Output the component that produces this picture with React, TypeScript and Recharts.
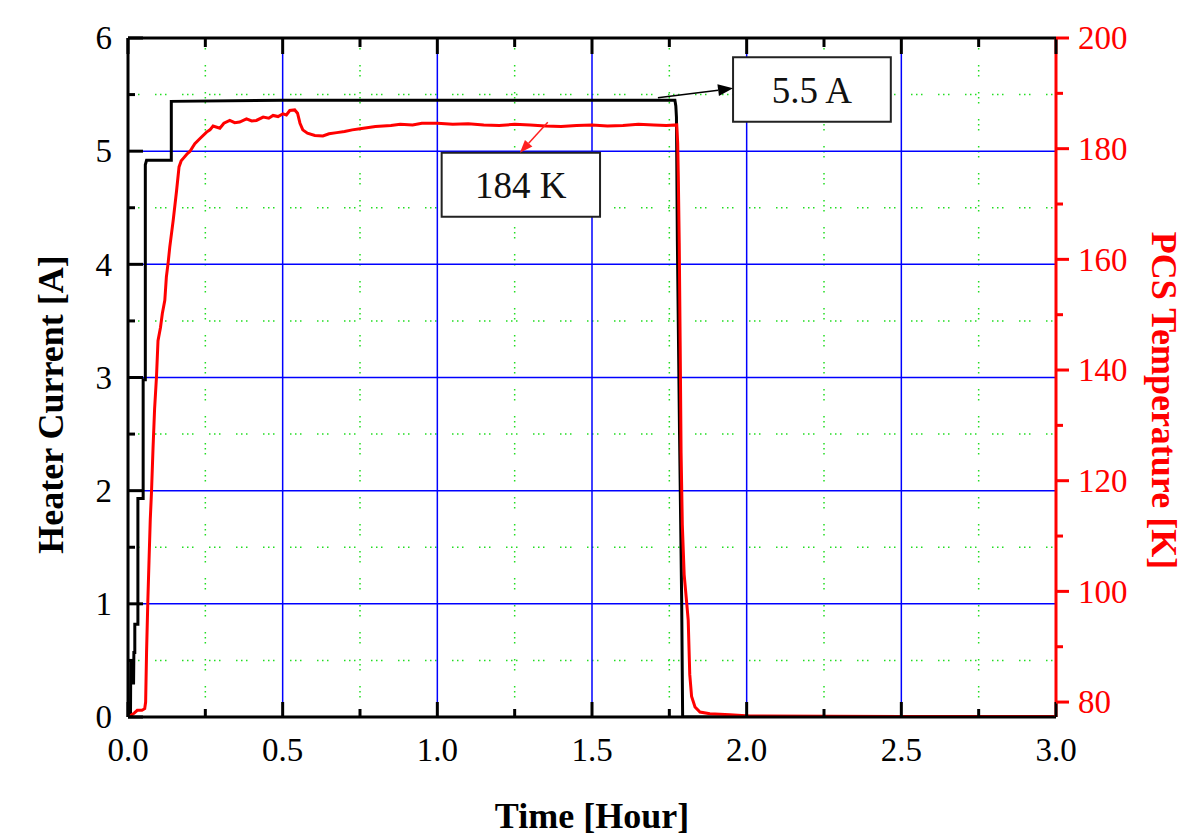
import { LineChart, Line, XAxis, YAxis, CartesianGrid, ReferenceArea, ReferenceLine } from "recharts";

const FONT = '"Liberation Serif", "Times New Roman", serif';

// heater current (left axis), black step trace
const currentHours = [0, 0.008, 0.009, 0.013, 0.014, 0.018, 0.019, 0.022, 0.022, 0.032, 0.032, 0.049, 0.049, 0.056, 0.056, 0.06, 0.14, 0.14, 0.5, 1.0, 1.5, 1.768, 1.771, 1.773, 1.776, 1.783, 1.79, 1.793, 3.0];
const currentAmps = [0, 0, 0.5, 0.5, 0.3, 0.3, 0.57, 0.57, 0.82, 0.82, 1.93, 1.93, 2.98, 2.98, 4.88, 4.92, 4.92, 5.44, 5.45, 5.45, 5.45, 5.45, 5.4, 5.3, 4.2, 2.5, 1.0, 0, 0];

// PCS temperature (right axis), red trace
const tempHours = [
  0, 0.005, 0.01, 0.02, 0.03, 0.045, 0.054, 0.057, 0.06, 0.064, 0.068, 0.072, 0.076, 0.081, 0.086, 0.092, 0.097,
  0.105, 0.111, 0.119, 0.124, 0.13, 0.135, 0.146, 0.157, 0.165, 0.172, 0.178, 0.19, 0.2, 0.216, 0.232, 0.254,
  0.265, 0.275, 0.297, 0.31, 0.329, 0.345, 0.361, 0.383, 0.4, 0.415, 0.437, 0.455, 0.469, 0.485, 0.501, 0.512,
  0.523, 0.539, 0.548, 0.556, 0.565, 0.58, 0.604, 0.63, 0.65, 0.675, 0.7, 0.725, 0.75, 0.8, 0.85, 0.88, 0.92,
  0.95, 1.0, 1.05, 1.1, 1.15, 1.2, 1.25, 1.3, 1.35, 1.4, 1.45, 1.5, 1.55, 1.6, 1.65, 1.7, 1.74,
  1.774, 1.777, 1.779, 1.782, 1.785, 1.788, 1.792, 1.798, 1.806, 1.811, 1.816, 1.822, 1.833, 1.849, 1.881,
  1.946, 2.01, 2.5, 3.0,
];
const tempKelvin = [
  77.4, 77.4, 77.6, 78.0, 78.5, 78.5, 78.8, 80, 89, 98, 105.6, 113, 118, 126, 133, 138.7, 145.3,
  147.7, 150.2, 152.6, 156.8, 159.5, 162.2, 167, 172.4, 176.7, 177.8, 178.2, 179.0, 179.5, 180.9, 181.8, 183,
  183.4, 184.1, 183.7, 184.6, 185.1, 184.7, 184.8, 185.4, 185.0, 185.1, 185.7, 185.5, 186, 185.8, 186.3, 186.1,
  186.9, 187, 186.4, 184.6, 183.4, 182.8, 182.4, 182.3, 182.7, 182.9, 183.1, 183.4, 183.6, 184, 184.2, 184.4, 184.3,
  184.6, 184.6, 184.4, 184.5, 184.3, 184.2, 184.4, 184.3, 184.1, 184.0, 184.2, 184.3, 184.1, 184.2, 184.4, 184.3, 184.2,
  184.3, 181, 175, 163, 145, 125, 112, 103, 98, 94.8, 85, 81, 79.1, 78.2, 77.9,
  77.7, 77.5, 77.4, 77.4,
];

const xTicks = [0, 0.25, 0.5, 0.75, 1, 1.25, 1.5, 1.75, 2, 2.25, 2.5, 2.75, 3];
const leftTicks = [0, 0.5, 1, 1.5, 2, 2.5, 3, 3.5, 4, 4.5, 5, 5.5, 6];
const rightTicks = [80, 90, 100, 110, 120, 130, 140, 150, 160, 170, 180, 190, 200];
const majorGridX = [0.5, 1, 1.5, 2, 2.5];
const minorGridX = [0.25, 0.75, 1.25, 1.75, 2.25, 2.75];
const majorGridY = [1, 2, 3, 4, 5];
const minorGridY = [0.5, 1.5, 2.5, 3.5, 4.5, 5.5];

const currentData = currentHours.map((t, i) => ({ t, a: currentAmps[i] }));
const tempData = tempHours.map((t, i) => ({ t, k: tempKelvin[i] }));

const isHalf = (v: number) => Math.abs(v * 2 - Math.round(v * 2)) < 1e-6;

function BottomTick(p: any) {
  const v = p.payload.value;
  const major = isHalf(v);
  return (
    <g>
      <line x1={p.x} y1={p.y} x2={p.x} y2={p.y - (major ? 15 : 8)} stroke="#000" strokeWidth={3} />
      {major && (
        <text x={p.x} y={p.y + 44} textAnchor="middle" fontSize={33} fontFamily={FONT} fill="#000">
          {v.toFixed(1)}
        </text>
      )}
    </g>
  );
}

function TopTick(p: any) {
  const major = isHalf(p.payload.value);
  return <line x1={p.x} y1={p.y} x2={p.x} y2={p.y + (major ? 16 : 9)} stroke="#000" strokeWidth={3} />;
}

function LeftTick(p: any) {
  const v = p.payload.value;
  const major = Number.isInteger(v);
  return (
    <g>
      <line x1={p.x} y1={p.y} x2={p.x + (major ? 15 : 7)} y2={p.y} stroke="#000" strokeWidth={3} />
      {major && (
        <text x={p.x - 16} y={p.y} dy="0.34em" textAnchor="end" fontSize={33} fontFamily={FONT} fill="#000">
          {v}
        </text>
      )}
    </g>
  );
}

function RightTick(p: any) {
  const v = p.payload.value;
  const major = v % 20 === 0;
  return (
    <g>
      <line x1={p.x} y1={p.y} x2={p.x + (major ? 13 : 7)} y2={p.y} stroke="#ff0000" strokeWidth={3} />
      {major && (
        <text x={p.x + 22} y={p.y} dy="0.34em" textAnchor="start" fontSize={33} fontFamily={FONT} fill="#ff0000">
          {v}
        </text>
      )}
    </g>
  );
}

function arrow(color: string, head: number, half: number) {
  return (p: any) => {
    const { x1, y1, x2, y2 } = p;
    const ang = Math.atan2(y2 - y1, x2 - x1);
    const bx = x2 - head * Math.cos(ang);
    const by = y2 - head * Math.sin(ang);
    const sx = half * Math.sin(ang);
    const sy = half * Math.cos(ang);
    return (
      <g>
        <line x1={x1} y1={y1} x2={bx} y2={by} stroke={color} strokeWidth={1.5} />
        <polygon points={`${x2},${y2} ${bx + sx},${by - sy} ${bx - sx},${by + sy}`} fill={color} />
      </g>
    );
  };
}

const leftTitle = (p: any) => {
  const vb = p.viewBox || { x: 0, y: 38, width: 128, height: 679 };
  const x = vb.x + 50;
  const y = vb.y + vb.height / 2 + 27;
  return (
    <text x={x} y={y} transform={`rotate(-90 ${x} ${y})`} dy="0.35em" textAnchor="middle" fontSize={36} fontWeight="bold" fontFamily={FONT} fill="#000">
      Heater Current [A]
    </text>
  );
};

const rightTitle = (p: any) => {
  const vb = p.viewBox || { x: 1056, y: 38, width: 132, height: 679 };
  const x = vb.x + 109;
  const y = vb.y + vb.height / 2 + 23;
  return (
    <text x={x} y={y} transform={`rotate(90 ${x} ${y})`} dy="0.35em" textAnchor="middle" fontSize={36} fontWeight="bold" fontFamily={FONT} fill="#ff0000">
      PCS Temperature [K]
    </text>
  );
};

const bottomTitle = (p: any) => {
  const vb = p.viewBox || { x: 128, y: 717, width: 928, height: 121 };
  return (
    <text x={vb.x + 464} y={vb.y + 111} textAnchor="middle" fontSize={36} fontWeight="bold" fontFamily={FONT} fill="#000">
      Time [Hour]
    </text>
  );
};

export default function App() {
  return (
    <div style={{ position: "absolute", left: 0, top: 0, width: 1188, height: 838, background: "#fff" }}>
      <LineChart width={1188} height={838} margin={{ top: 37, right: 0, bottom: 0, left: 0 }}>
        <CartesianGrid
          xAxisId="x"
          yAxisId="left"
          verticalValues={minorGridX}
          horizontalValues={minorGridY}
          stroke="#22dd22"
          strokeWidth={1.5}
          strokeDasharray="1.5 3.5 1.5 3.5 1.5 15.5"
        />
        <CartesianGrid xAxisId="x" yAxisId="left" verticalValues={majorGridX} horizontalValues={majorGridY} stroke="#0000ff" strokeWidth={1.5} />
        <XAxis
          xAxisId="top"
          orientation="top"
          dataKey="t"
          type="number"
          domain={[0, 3]}
          ticks={xTicks}
          interval={0}
          height={1}
          allowDataOverflow
          tickSize={0}
          tickMargin={0}
          tickLine={false}
          tick={TopTick}
          axisLine={{ stroke: "#000", strokeWidth: 3 }}
        />
        <XAxis
          xAxisId="x"
          dataKey="t"
          type="number"
          domain={[0, 3]}
          ticks={xTicks}
          interval={0}
          height={121}
          allowDataOverflow
          tickSize={0}
          tickMargin={0}
          tickLine={false}
          tick={BottomTick}
          axisLine={{ stroke: "#000", strokeWidth: 3 }}
          label={bottomTitle}
        />
        <YAxis
          yAxisId="left"
          type="number"
          domain={[0, 6]}
          ticks={leftTicks}
          interval={0}
          width={128}
          allowDataOverflow
          tickSize={0}
          tickMargin={0}
          tickLine={false}
          tick={LeftTick}
          axisLine={{ stroke: "#000", strokeWidth: 3 }}
          label={leftTitle}
        />
        <YAxis
          yAxisId="right"
          orientation="right"
          type="number"
          domain={[77.3, 200]}
          ticks={rightTicks}
          interval={0}
          width={132}
          allowDataOverflow
          tickSize={0}
          tickMargin={0}
          tickLine={false}
          tick={RightTick}
          axisLine={{ stroke: "#ff0000", strokeWidth: 3 }}
          label={rightTitle}
        />
        {/* invisible trace so the mirrored top frame axis gets drawn */}
        <Line xAxisId="top" yAxisId="left" data={currentData} dataKey="a" stroke="none" dot={false} activeDot={false} isAnimationActive={false} />
        <Line xAxisId="x" yAxisId="left" data={currentData} dataKey="a" type="linear" stroke="#000" strokeWidth={3} dot={false} isAnimationActive={false} />
        <Line xAxisId="x" yAxisId="right" data={tempData} dataKey="k" type="linear" stroke="#ff0000" strokeWidth={3} dot={false} isAnimationActive={false} />
        <ReferenceArea
          xAxisId="x"
          yAxisId="left"
          x1={1.956}
          x2={2.466}
          y1={5.26}
          y2={5.83}
          fill="#fff"
          fillOpacity={1}
          stroke="#222"
          strokeWidth={2}
          ifOverflow="visible"
          label={{ value: "5.5 A", position: "center", fontSize: 37, fontFamily: FONT, fill: "#111" }}
        />
        <ReferenceArea
          xAxisId="x"
          yAxisId="left"
          x1={1.014}
          x2={1.526}
          y1={4.42}
          y2={4.985}
          fill="#fff"
          fillOpacity={1}
          stroke="#222"
          strokeWidth={2}
          ifOverflow="visible"
          label={{ value: "184 K", position: "center", fontSize: 37, fontFamily: FONT, fill: "#111" }}
        />
        <ReferenceLine
          xAxisId="x"
          yAxisId="left"
          segment={[{ x: 1.713, y: 5.471 }, { x: 1.956, y: 5.556 }]}
          shape={arrow("#000", 15, 6)}
          ifOverflow="visible"
        />
        <ReferenceLine
          xAxisId="x"
          yAxisId="left"
          segment={[{ x: 1.357, y: 5.256 }, { x: 1.267, y: 4.985 }]}
          shape={arrow("#ff2020", 13, 5)}
          ifOverflow="visible"
        />
      </LineChart>
    </div>
  );
}
